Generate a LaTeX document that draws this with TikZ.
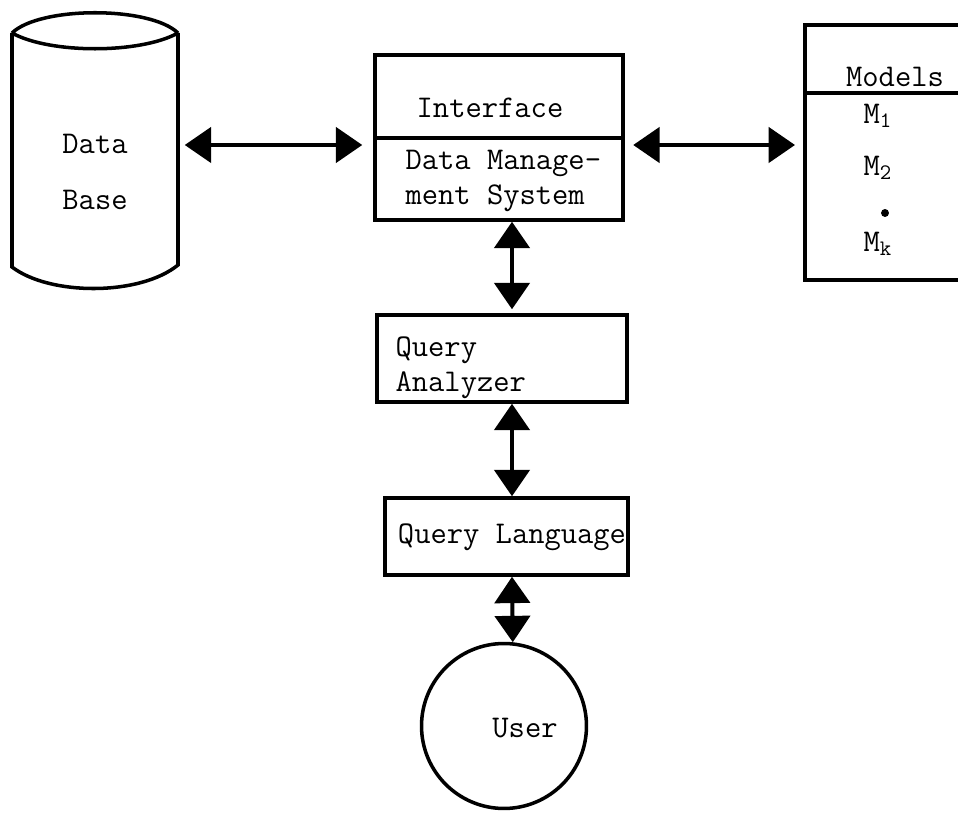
\documentclass[tikz,border=0pt]{standalone}
\usetikzlibrary{arrows.meta}
\begin{document}
\begin{tikzpicture}[x=0.02cm,y=-0.02cm,line width=2pt,font=\ttfamily\fontsize{18}{20}\selectfont,
box/.style={draw,inner sep=0pt},
link/.style={{Triangle[length=15pt,width=20pt]}-{Triangle[length=15pt,width=20pt]},line width=2.3pt}]
\useasboundingbox(0,0)rectangle(958,814);
\draw(12,33)..controls(40,6)and(150,6)..(178,33)
(12,33)..controls(50,54)and(140,54)..(178,33)
(12,33)--(12,267)..controls(50,296)and(140,296)..(178,265)--(178,33);
\node[align=center,minimum width=3.32cm](db)at(95,172){Data\\[12pt]Base};
\node[box,minimum width=4.96cm,minimum height=3.3cm](iface)at(499,137.5){};
\draw(iface.west|-0,138)--(iface.east|-0,138);
\node(ifc)at(490,108){Interface};
\node[anchor=west,align=left](dms)at(398,181){Data Manage-\\ment System};
\draw(958,25)--(805,25)--(805,280)--(958,280)(805,93)--(958,93);
\coordinate(mleft)at(805,145);
\node(mod)at(895,77){Models};
\foreach \i/\y in{1/116,2/168,k/244}
\node[anchor=west](m\i)at(856,\y){M\textsubscript{\i}};
\node[circle,fill,inner sep=1.6pt](vdot)at(885,213){};
\node[box,minimum width=5cm,minimum height=1.74cm](qa)at(502,358.5){};
\node[anchor=west,align=left](qat)at(388,368){Query\\Analyzer};
\node[box,minimum width=4.86cm,minimum height=1.54cm](ql)at(506.5,536.5){};
\node(qlt)at(512,537){Query Language};
\node[draw,circle,inner sep=0pt,minimum size=3.3cm](user)at(504,726){};
\node(usr)at(525,728){User};
\draw[link,shorten <=0.1cm,shorten >=0.22cm](db.east|-0,145)--(iface.west|-0,145);
\draw[link,shorten <=0.17cm,shorten >=0.2cm](iface.east|-0,145)--(mleft);
\draw[link,shorten >=0.08cm](iface.south-|512,0)--(qa.north-|512,0);
\draw[link](qa.south-|512,0)--(ql.north-|512,0);
\draw[link](ql.south-|512,0)--(user.84);
\end{tikzpicture}
\end{document}
